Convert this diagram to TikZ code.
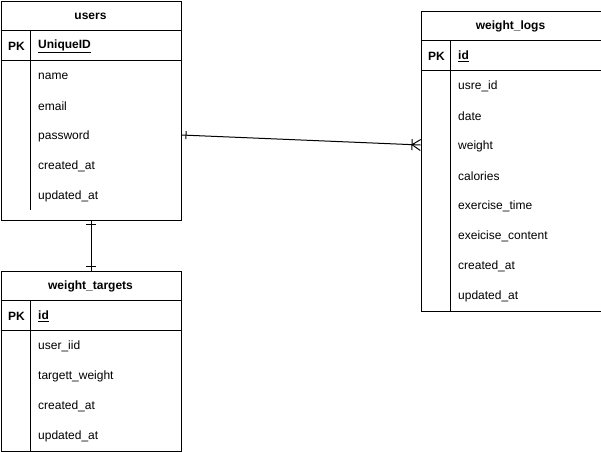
\documentclass[tikz,border=0pt]{standalone}
\usepackage{fontspec}
\setmainfont{Liberation Sans}
\usetikzlibrary{calc}

\tikzset{
  tbl/.style={draw, line width=1pt, inner sep=0pt, anchor=north west},
  rule/.style={line width=1pt},
  title/.style={font=\fontsize{12}{14}\selectfont\bfseries, inner sep=0pt, yshift=-1pt},
  field/.style={font=\fontsize{12}{14}\selectfont, anchor=west, inner sep=0pt, yshift=-1pt},
  keyfield/.style={field, font=\fontsize{12}{14}\selectfont\bfseries},
  link/.style={line width=1pt},
  tick/.style={line width=1pt},
}

\begin{document}
\begin{tikzpicture}[x=1pt, y=-1pt]
\useasboundingbox (0,0) rectangle (601,451);

% ---------- users ----------
\node[tbl, minimum width=180pt, minimum height=219pt] (users) at (0.5,0.5) {};
\draw[rule] (0.5,30) -- (180.5,30);
\draw[rule] (0.5,60) -- (180.5,60);
\draw[rule] (30,30) -- (30,210);
\node[title] (usersT) at (90.5,15) {users};
\node[keyfield] (usersPK) at (8,45) {PK};
\node[keyfield] (usersId) at (38,45) {\underline{UniqueID}};
\node[field] (usersName) at (38,75) {name};
\node[field] (usersEmail) at (38,105) {email};
\node[field] (usersPw) at (38,135) {password};
\node[field] (usersCr) at (38,165) {created\_at};
\node[field] (usersUp) at (38,195) {updated\_at};

% ---------- weight_logs ----------
\node[tbl, minimum width=180pt, minimum height=300pt] (logs) at (420.5,10.5) {};
\draw[rule] (420.5,40) -- (600.5,40);
\draw[rule] (420.5,70) -- (600.5,70);
\draw[rule] (450,40) -- (450,310.5);
\node[title] (logsT) at (510.5,25) {weight\_logs};
\node[keyfield] (logsPK) at (428,55) {PK};
\node[keyfield] (logsId) at (458,55) {\underline{id}};
\node[field] (logsUser) at (458,85) {usre\_id};
\node[field] (logsDate) at (458,115) {date};
\node[field] (logsW) at (458,145) {weight};
\node[field] (logsCal) at (458,175) {calories};
\node[field] (logsEt) at (458,205) {exercise\_time};
\node[field] (logsEc) at (458,235) {exeicise\_content};
\node[field] (logsCr) at (458,265) {created\_at};
\node[field] (logsUp) at (458,295) {updated\_at};

% ---------- weight_targets ----------
\node[tbl, minimum width=180pt, minimum height=180pt] (targets) at (0.5,270.5) {};
\draw[rule] (0.5,300) -- (180.5,300);
\draw[rule] (0.5,330) -- (180.5,330);
\draw[rule] (30,300) -- (30,450.5);
\node[title] (targetsT) at (90.5,285) {weight\_targets};
\node[keyfield] (targetsPK) at (8,315) {PK};
\node[keyfield] (targetsId) at (38,315) {\underline{id}};
\node[field] (targetsUser) at (38,345) {user\_iid};
\node[field] (targetsTw) at (38,375) {targett\_weight};
\node[field] (targetsCr) at (38,405) {created\_at};
\node[field] (targetsUp) at (38,435) {updated\_at};

% ---------- relations ----------
% users (one) -- weight_logs (many)
\coordinate (uA) at (users.east |- 0,135);
\coordinate (lB) at (logs.west |- 0,145);
\draw[link] (uA) -- (lB);
\coordinate (uT) at ($(uA)!4.5pt!(lB)$);
\draw[tick] ($(uT)!4pt!90:(lB)$) -- ($(uT)!4pt!-90:(lB)$);
\coordinate (lT) at ($(lB)!8.5pt!(uA)$);
\draw[tick] ($(lT)!5.5pt!90:(uA)$) -- ($(lT)!5.5pt!-90:(uA)$);
\draw[tick] ($(lB)!5.5pt!90:(uA)$) -- (lT) -- ($(lB)!5.5pt!-90:(uA)$);

% users (one) -- weight_targets (one)
\coordinate (uC) at (users.south);
\coordinate (tD) at (targets.north);
\draw[link] (uC) -- (tD);
\coordinate (uS) at ($(uC)!4pt!(tD)$);
\draw[tick] ($(uS)!5pt!90:(tD)$) -- ($(uS)!5pt!-90:(tD)$);
\coordinate (tS) at ($(tD)!4pt!(uC)$);
\draw[tick] ($(tS)!5pt!90:(uC)$) -- ($(tS)!5pt!-90:(uC)$);
\end{tikzpicture}
\end{document}
